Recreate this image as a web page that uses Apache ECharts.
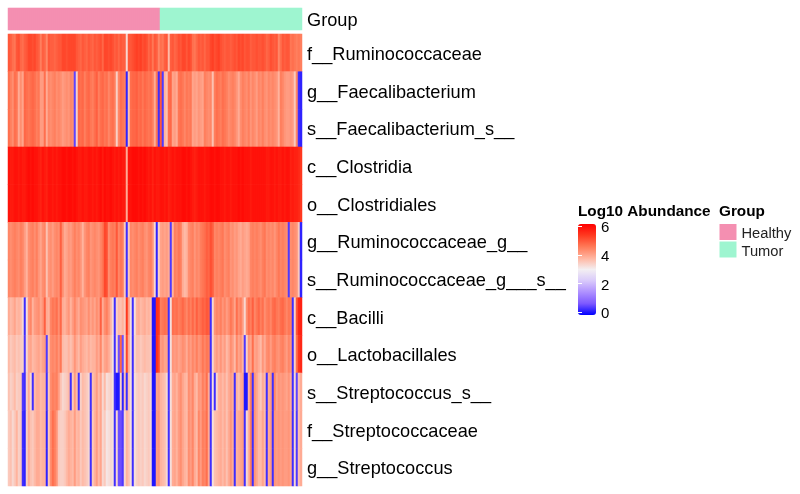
<!DOCTYPE html>
<html><head><meta charset="utf-8">
<style>html,body{margin:0;padding:0;background:#fff}#c{width:800px;height:494px}</style>
<script src="https://cdn.jsdelivr.net/npm/echarts@6/dist/echarts.min.js"></script>
</head><body><div id="c"></div>
<script>
const taxa = ['f__Ruminococcaceae','g__Faecalibacterium','s__Faecalibacterium_s__','c__Clostridia','o__Clostridiales','g__Ruminococcaceae_g__','s__Ruminococcaceae_g___s__','c__Bacilli','o__Lactobacillales','s__Streptococcus_s__','f__Streptococcaceae','g__Streptococcus'];
const healthyCount = 76;
const tumorCount = 71;
const legendTicks = [0,2,4,6];

const fRuminococcaceae = [
5.0,4.9,4.7,4.6,5.0,5.1,4.8,4.7,4.9,5.0,
5.2,5.2,5.1,5.2,5.0,4.9,4.5,4.9,4.8,4.4,
5.0,4.9,4.9,4.8,4.9,5.0,5.0,5.2,5.2,5.1,
5.2,5.2,5.2,5.2,5.0,4.9,4.8,5.0,4.9,4.8,
5.0,4.9,4.8,5.0,4.9,5.0,5.1,4.8,5.2,5.2,
5.1,5.2,5.1,4.9,5.0,4.8,5.0,4.9,4.9,3.3,
5.0,5.0,5.1,5.2,5.3,5.2,5.3,5.1,5.2,5.1,
4.8,5.0,4.6,5.0,4.9,4.4,4.7,4.6,4.9,5.0,
3.7,4.9,5.0,4.8,4.9,5.1,5.0,5.2,5.2,5.0,
5.2,5.1,4.7,4.6,4.8,5.0,4.9,5.0,4.8,5.0,
5.0,5.2,5.3,5.1,5.2,5.3,5.1,5.0,4.9,5.0,
5.0,4.9,5.0,5.1,5.0,5.2,5.1,5.2,5.0,5.1,
5.1,4.9,5.0,5.0,5.1,5.0,5.0,5.1,5.0,4.8,
4.9,5.1,5.0,4.9,5.0,4.4,4.7,5.0,4.9,5.0,
5.0,4.6,4.7,4.6,4.5,4.6,4.5];
const gFaecalibacterium = [
4.7,4.5,4.3,4.7,4.6,3.9,4.3,4.0,4.8,4.7,
4.6,4.7,4.8,4.7,4.5,4.6,4.1,4.1,4.7,3.9,
4.4,4.3,4.4,4.5,4.3,4.4,4.3,4.1,4.2,4.3,
4.2,4.4,4.3,0.4,3.4,4.8,4.7,4.8,4.5,4.7,
4.8,4.6,4.5,4.7,4.9,4.5,4.7,4.8,4.6,4.7,
4.4,4.6,4.7,4.5,3.4,4.4,4.7,4.6,4.5,0.1,
3.6,4.7,4.8,4.8,4.9,4.7,4.8,4.6,4.8,4.7,
4.6,4.7,4.5,3.9,4.6,0.2,5.0,0.3,3.8,3.6,
4.7,4.8,4.0,4.1,3.9,4.6,4.7,4.6,4.4,4.6,
4.5,4.6,4.0,4.1,4.0,4.2,4.1,4.0,4.5,4.4,
4.3,4.4,3.6,4.5,4.7,4.6,4.5,4.7,4.6,4.5,
4.3,4.4,4.5,4.4,4.2,3.9,4.3,4.5,4.4,4.3,
4.5,4.2,4.4,4.3,4.1,4.4,4.3,4.5,4.3,4.2,
4.4,4.3,4.4,4.3,4.2,3.8,4.5,4.4,4.2,4.1,
4.1,4.2,4.1,3.5,4.4,0.2,0.1];
const sFaecalibacterium = gFaecalibacterium;
const cClostridia = [
5.9,5.8,5.8,5.9,5.9,5.8,5.9,5.8,5.8,5.9,
6.0,5.9,6.0,5.9,5.9,5.8,5.7,5.9,5.8,5.7,
5.9,5.9,5.8,5.9,5.8,5.9,5.9,6.0,6.0,5.9,
6.0,6.0,5.9,6.0,5.9,5.8,5.8,5.9,5.8,5.8,
5.9,5.9,5.8,5.9,5.8,5.9,6.0,5.8,6.0,5.9,
5.9,6.0,5.9,5.8,5.9,5.8,5.9,5.8,5.8,3.9,
5.9,5.9,6.0,6.0,6.0,5.9,6.0,5.9,6.0,5.9,
5.8,5.9,5.7,5.9,5.8,5.8,5.9,5.9,5.8,5.9,
5.7,5.8,5.9,5.8,5.9,5.9,5.9,6.0,6.0,5.9,
6.0,5.9,5.8,5.7,5.8,5.9,5.9,5.9,5.8,5.9,
5.9,6.0,6.0,5.9,6.0,6.0,5.9,5.9,5.8,5.9,
5.9,5.8,5.9,5.9,5.9,6.0,5.9,6.0,5.9,5.9,
5.9,5.8,5.9,5.9,5.9,5.9,5.9,5.9,5.9,5.8,
5.8,5.9,5.9,5.8,5.9,5.8,5.8,5.9,5.8,5.9,
5.9,5.7,5.8,5.7,5.7,5.6,5.4];
const oClostridiales = cClostridia;
const gRuminococcaceae = [
4.4,4.3,4.4,4.5,4.4,4.3,4.5,4.4,4.1,3.8,
4.3,4.4,4.5,4.3,4.5,4.2,4.0,4.3,4.4,3.6,
4.2,4.3,4.1,4.3,4.4,4.3,4.9,4.3,3.9,4.0,
4.2,4.1,4.3,4.5,4.3,4.4,4.2,3.8,4.2,4.4,
4.5,4.2,4.3,4.4,4.3,4.2,4.4,4.6,5.2,5.1,
4.3,4.5,4.6,4.5,5.0,4.4,4.6,4.5,3.5,0.2,
3.5,4.4,4.3,4.4,4.5,4.3,4.4,4.5,4.3,4.2,
4.4,4.5,4.2,3.3,0.1,3.4,4.0,4.1,4.0,4.1,
3.9,0.3,3.8,4.5,4.4,4.6,4.5,3.9,3.7,3.8,
4.3,4.4,4.5,4.2,4.4,4.3,4.5,4.6,4.7,4.9,
4.8,5.1,4.9,4.4,4.5,4.4,4.5,4.6,4.3,4.4,
4.5,4.2,4.3,4.1,4.2,4.0,3.9,4.1,4.0,3.9,
4.0,4.4,4.5,4.4,4.5,4.4,4.3,4.5,4.6,4.3,
4.4,4.3,4.4,4.2,4.4,4.6,4.4,4.5,4.4,4.3,
0.3,4.3,4.4,4.3,4.2,3.5,0.1];
const sRuminococcaceae = gRuminococcaceae;
const cBacilli = [
3.9,3.7,3.8,4.0,3.7,3.8,3.7,3.3,0.2,3.2,
4.2,4.4,3.8,4.1,4.2,4.3,4.0,4.2,4.9,3.9,
3.8,4.4,4.6,4.5,4.7,4.3,4.8,3.9,3.8,4.0,
4.2,3.8,4.1,4.4,4.1,3.9,4.3,4.2,4.1,4.0,
4.3,4.0,4.2,4.0,4.3,4.1,4.9,3.9,4.3,4.5,
4.2,3.8,3.3,0.2,3.4,3.7,3.6,3.8,3.5,5.4,
4.1,3.2,0.2,3.2,3.8,3.9,3.7,3.8,3.9,3.7,
3.8,3.6,0.0,0.0,5.5,5.4,4.5,4.6,4.7,4.6,
0.2,3.2,4.7,4.6,4.7,4.5,4.6,4.8,4.6,4.4,
4.7,4.5,4.8,4.5,4.9,4.6,4.7,4.9,4.8,5.0,
4.9,0.2,3.3,4.2,4.4,4.3,4.5,4.2,4.4,4.1,
4.3,4.6,4.4,4.0,4.7,4.3,4.5,4.1,3.3,4.3,
4.7,4.5,4.9,4.4,4.6,4.8,4.5,4.7,4.3,4.5,
4.6,4.4,4.7,4.8,4.6,4.5,4.7,4.8,4.6,4.4,
4.6,4.5,0.2,3.4,5.0,5.6,5.7];
const oLactobacillales = [
3.7,3.5,3.6,3.7,3.5,3.6,3.5,3.4,0.3,3.3,
3.9,4.0,3.7,3.8,3.9,4.0,3.8,4.0,4.1,0.3,
3.6,4.3,4.4,4.3,4.5,4.2,4.6,3.7,3.6,3.6,
3.8,3.6,3.8,4.2,3.9,3.7,4.1,3.9,3.8,3.7,
3.9,3.7,3.8,3.8,4.1,3.9,4.4,3.7,4.0,4.1,
3.9,3.6,3.2,0.2,3.3,0.5,4.8,0.5,3.4,5.2,
3.9,3.2,0.2,3.3,3.6,3.6,3.5,3.6,3.7,3.6,
3.6,3.5,0.0,0.0,5.5,5.2,4.1,4.2,4.0,4.0,
0.2,3.2,4.2,4.1,4.2,4.0,4.1,4.3,4.2,3.9,
4.3,4.1,4.4,4.2,4.5,4.2,4.3,4.6,4.4,4.6,
4.5,0.2,3.3,3.9,4.1,3.9,4.2,3.9,4.1,3.7,
3.9,4.3,4.1,3.7,4.4,4.0,4.2,3.8,0.3,3.4,
4.2,4.0,4.7,4.0,4.1,3.9,3.7,4.2,3.9,4.3,
4.4,4.1,4.4,4.5,4.3,4.2,4.4,4.5,4.3,4.1,
4.4,4.2,0.2,3.4,4.7,5.4,5.6];
const sStreptococcus = [
3.6,3.4,3.5,3.7,3.4,3.5,3.5,0.3,0.2,3.4,
3.9,3.3,0.2,3.7,3.9,3.9,3.7,3.8,3.8,0.2,
3.5,4.3,4.5,4.4,4.5,4.1,3.6,3.3,3.4,3.5,
3.7,0.2,3.5,4.1,3.7,0.2,3.4,3.7,3.6,3.5,
3.3,0.2,3.6,3.8,4.1,3.7,4.0,3.3,3.7,3.2,
3.3,3.4,3.2,0.2,0.0,0.0,3.4,0.1,3.6,0.2,
3.6,3.2,0.2,3.2,3.4,3.5,3.4,3.5,3.3,3.4,
3.5,3.3,0.0,0.0,4.0,4.1,3.8,3.7,3.6,3.3,
0.2,3.2,3.9,4.0,3.8,4.1,4.3,4.0,3.8,3.7,
4.3,4.1,4.4,3.9,3.7,4.2,4.1,4.5,4.3,4.7,
3.9,0.2,3.2,0.2,3.3,3.8,3.9,3.7,3.9,3.6,
3.9,4.1,3.9,0.2,3.8,3.6,3.9,4.0,0.0,0.0,
3.8,4.5,0.2,4.2,4.0,3.7,3.5,3.9,3.7,0.2,
3.9,4.1,0.2,4.4,4.0,4.2,4.1,4.2,4.1,4.0,
4.2,3.9,0.2,3.3,0.4,3.6,3.9];
const fStreptococcaceae = [
3.5,3.6,3.3,3.5,3.8,3.4,3.5,0.2,0.1,3.4,
3.9,3.6,3.5,3.7,3.9,3.9,3.7,3.8,3.8,0.1,
3.5,4.3,4.7,4.5,4.2,3.5,3.4,3.4,3.5,3.7,
3.9,3.8,3.7,4.1,3.7,3.8,3.5,3.7,3.6,3.5,
3.3,0.2,3.5,3.8,4.1,3.7,4.0,3.3,3.5,3.1,
3.2,3.3,3.2,0.2,3.3,0.5,0.5,0.3,3.3,3.8,
3.6,3.2,0.2,3.2,3.4,3.5,3.4,3.5,3.3,3.4,
3.5,3.3,0.0,0.0,4.1,4.2,3.8,3.7,3.6,3.3,
0.2,3.2,3.9,4.0,3.8,4.1,4.3,4.0,3.8,3.7,
4.3,4.1,4.4,3.9,3.7,4.4,4.1,4.5,4.4,4.7,
3.9,0.2,3.2,3.6,3.7,3.8,3.9,3.7,3.9,3.6,
3.9,4.2,3.9,0.2,3.8,3.9,4.0,4.1,0.2,3.3,
3.8,4.5,0.2,4.2,4.0,3.7,3.7,4.0,3.7,0.2,
3.9,4.1,0.2,4.2,4.1,4.2,4.1,4.2,4.1,4.1,
4.2,4.0,0.2,3.3,0.3,3.6,3.9];
const gStreptococcus = fStreptococcaceae;

const matrix = [fRuminococcaceae,gFaecalibacterium,sFaecalibacterium,cClostridia,oClostridiales,gRuminococcaceae,sRuminococcaceae,cBacilli,oLactobacillales,sStreptococcus,fStreptococcaceae,gStreptococcus];
const samples = Array.from({length: healthyCount + tumorCount}, (_, i) => 'S' + (i + 1));
const cells = [];
matrix.forEach((row, y) => row.forEach((v, x) => cells.push([x, y, v])));
const healthyCells = samples.slice(0, healthyCount).map((_, i) => [i, 0, 1]);
const tumorCells = samples.slice(healthyCount).map((_, i) => [healthyCount + i, 0, 1]);

const font = 'Liberation Sans';
const chart = echarts.init(document.getElementById('c'), null, {renderer: 'canvas'});
chart.setOption({
  animation: false,
  backgroundColor: '#fff',
  textStyle: {fontFamily: font},
  title: [
    {text: 'Log10 Abundance', left: 578, top: 204, padding: 0, textStyle: {fontFamily: font, fontSize: 15.3, fontWeight: 'bold', color: '#000'}},
    {text: 'Group', left: 719, top: 204, padding: 0, textStyle: {fontFamily: font, fontSize: 15.3, fontWeight: 'bold', color: '#000'}}
  ],
  grid: [
    {left: 8, top: 34, width: 294, height: 452},
    {left: 8, top: 8, width: 294, height: 22},
    {left: 578, top: 224, width: 18, height: 91}
  ],
  xAxis: [
    {type: 'category', gridIndex: 0, data: samples, show: false},
    {type: 'category', gridIndex: 1, data: samples, show: false},
    {type: 'value', gridIndex: 2, show: false, min: 0, max: 1}
  ],
  yAxis: [
    {type: 'category', gridIndex: 0, data: taxa, inverse: true, position: 'right',
      axisLine: {show: false}, axisTick: {show: false}, splitLine: {show: false},
      axisLabel: {color: '#000', fontSize: 18.2, fontFamily: font, margin: 5, verticalAlign: 'top', padding: [-7,0,0,0]}},
    {type: 'category', gridIndex: 1, data: ['Group'], position: 'right',
      axisLine: {show: false}, axisTick: {show: false}, splitLine: {show: false},
      axisLabel: {color: '#000', fontSize: 18.2, fontFamily: font, margin: 5, verticalAlign: 'top', padding: [-7,0,0,0]}},
    {type: 'value', gridIndex: 2, position: 'right', min: -0.2, max: 6.15, z: 10,
      axisLine: {show: false}, splitLine: {show: false},
      axisTick: {show: true, inside: true, length: 4, customValues: legendTicks, lineStyle: {color: '#fff', width: 1}},
      axisLabel: {color: '#000', fontSize: 15, fontFamily: font, margin: 5, verticalAlign: 'top', padding: [-5.5,0,0,0], customValues: legendTicks, showMinLabel: true, showMaxLabel: true}},
    {type: 'value', gridIndex: 2, position: 'left', min: -0.2, max: 6.15, z: 10,
      axisLine: {show: false}, splitLine: {show: false},
      axisTick: {show: true, inside: true, length: 4, customValues: legendTicks, lineStyle: {color: '#fff', width: 1}},
      axisLabel: {show: false}}
  ],
  visualMap: {
    type: 'continuous', seriesIndex: 0, min: -0.2, max: 6.15, left: 578, top: 224,
    itemWidth: 18, itemHeight: 91, padding: 0, calculable: false, hoverLink: false, text: null,
    inRange: {color: ['#0000ff','#7d59ff','#ae90ff','#d9c9fb','#f3eff2','#ffb5a0','#ff7a58','#ff3a20','#ff0000']}
  },
  legend: {
    orient: 'vertical', left: 719.5, top: 224, padding: 0, itemWidth: 17, itemHeight: 16, itemGap: 0,
    icon: 'rect', selectedMode: false, data: ['Healthy','Tumor'],
    formatter: name => '{a|' + name + '}',
    textStyle: {rich: {a: {fontFamily: font, fontSize: 14.7, color: '#222', padding: [4,0,0,0], verticalAlign: 'bottom'}}}
  },
  series: [
    {type: 'heatmap', xAxisIndex: 0, yAxisIndex: 0, data: cells, silent: true, progressive: 0, emphasis: {disabled: true}},
    {name: 'Healthy', type: 'heatmap', xAxisIndex: 1, yAxisIndex: 1, data: healthyCells, silent: true, itemStyle: {color: '#f48fb1'}, emphasis: {disabled: true}},
    {name: 'Tumor', type: 'heatmap', xAxisIndex: 1, yAxisIndex: 1, data: tumorCells, silent: true, itemStyle: {color: '#9ef5d0'}, emphasis: {disabled: true}}
  ]
});
</script></body></html>
